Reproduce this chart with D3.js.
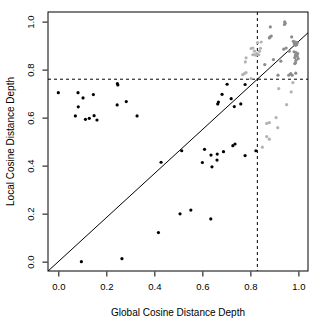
<!DOCTYPE html>
<html>
<head>
<meta charset="utf-8">
<script src="https://cdn.jsdelivr.net/npm/d3@7"></script>
<style>
  body { margin: 0; background: #fff; }
  text { font-family: "Liberation Sans", Arial, sans-serif; }
</style>
</head>
<body>
<div id="chart"></div>
<script>
// black points: below both cut-offs
var blackPts = [
  [0.0,0.704],[0.082,0.704],[0.103,0.682],[0.146,0.696],[0.083,0.645],[0.071,0.607],
  [0.113,0.593],[0.129,0.597],[0.149,0.608],[0.161,0.590],[0.246,0.742],[0.248,0.736],
  [0.245,0.653],[0.283,0.667],[0.328,0.607],[0.096,0.0],[0.265,0.0125],[0.417,0.121],
  [0.428,0.414],[0.600,0.413],[0.640,0.395],[0.661,0.423],[0.507,0.199],[0.552,0.215],
  [0.635,0.178],[0.703,0.739],[0.682,0.697],[0.667,0.665],[0.664,0.657],[0.720,0.679],
  [0.514,0.462],[0.609,0.468],[0.636,0.444],[0.662,0.448],[0.688,0.458],[0.778,0.738],
  [0.733,0.646],[0.760,0.657],[0.727,0.483],[0.736,0.490],[0.778,0.442],[0.823,0.462]
];
// dark grey points: above both cut-offs
var darkPts = [
  [0.883,0.978],[0.943,0.999],[0.945,0.993],[0.942,0.988],[0.882,0.936],[0.887,0.940],
  [0.879,0.932],[0.972,0.936],[0.979,0.918],[0.988,0.915],[0.983,0.908],[0.993,0.904],
  [0.988,0.901],[0.996,0.913],[0.949,0.890],[0.939,0.885],[0.962,0.877],[0.982,0.874],
  [0.990,0.871],[0.997,0.867],[0.988,0.860],[0.995,0.856],[0.985,0.850],[0.999,0.846],
  [0.990,0.839],[0.988,0.829],[0.985,0.825],[0.896,0.842],[0.860,0.821],[0.927,0.835],
  [0.915,0.777],[0.960,0.777],[0.968,0.783],[0.974,0.777],[0.989,0.785]
];
// light grey points: above one cut-off only
var lightPts = [
  [0.803,0.888],[0.810,0.890],[0.817,0.877],[0.827,0.867],[0.810,0.862],[0.817,0.862],
  [0.824,0.860],[0.835,0.862],[0.838,0.877],[0.830,0.912],[0.845,0.915],[0.782,0.849],
  [0.779,0.832],[0.768,0.779],[0.775,0.783],[0.782,0.788],[0.803,0.763],[0.842,0.889],
  [0.977,0.746],[0.918,0.721],[0.970,0.707],[0.951,0.654],[0.907,0.600],[0.868,0.576],
  [0.879,0.579],[0.914,0.558],[0.868,0.521],[0.879,0.510],[0.850,0.477]
];
var tickVals = [0, 0.2, 0.4, 0.6, 0.8, 1.0];
var cutX = 0.829, cutY = 0.76;
var slope = cutY / cutX;

var W = 332, H = 332;
var margin = {top: 12, right: 24, bottom: 61, left: 48};
var width = W - margin.left - margin.right,
    height = H - margin.top - margin.bottom;

var svg = d3.select("#chart").append("svg").attr("width", W).attr("height", H);
var g = svg.append("g").attr("transform", "translate(" + margin.left + "," + margin.top + ")");

var x = d3.scaleLinear().domain([-0.043, 1.04]).range([0, width]);
var y = d3.scaleLinear().domain([-0.039, 1.04]).range([height, 0]);

// clip for the lines inside the box
g.append("clipPath").attr("id", "clip").append("rect")
  .attr("width", width).attr("height", height);

var inner = g.append("g").attr("clip-path", "url(#clip)");

// reference line y = slope * x
inner.append("line")
  .attr("x1", x(-0.1)).attr("y1", y(-0.1 * slope))
  .attr("x2", x(1.1)).attr("y2", y(1.1 * slope))
  .attr("stroke", "#000").attr("stroke-width", 1);

// dashed cut-offs
inner.append("line")
  .attr("x1", 0).attr("x2", width).attr("y1", y(cutY)).attr("y2", y(cutY))
  .attr("stroke", "#000").attr("stroke-dasharray", "3,3");
inner.append("line")
  .attr("x1", x(cutX)).attr("x2", x(cutX)).attr("y1", 0).attr("y2", height)
  .attr("stroke", "#000").attr("stroke-dasharray", "3,3");

function drawPts(data, col) {
  inner.append("g").selectAll("circle")
    .data(data)
    .enter().append("circle")
    .attr("cx", function (d) { return x(d[0]); })
    .attr("cy", function (d) { return y(d[1]); })
    .attr("r", 1.6)
    .attr("fill", col);
}
drawPts(lightPts, "#b3b3b3");
drawPts(darkPts, "#8c8c8c");
drawPts(blackPts, "#000");

// axes
var fmt = d3.format(".1f");
var xAxis = g.append("g")
  .attr("transform", "translate(0," + (height + 0.5) + ")")
  .call(d3.axisBottom(x).tickValues(tickVals).tickFormat(fmt).tickSize(5).tickPadding(7));
var yAxis = g.append("g")
  .attr("transform", "translate(-0.5,0)")
  .call(d3.axisLeft(y).tickValues(tickVals).tickFormat(fmt).tickSize(5).tickPadding(7));

[xAxis, yAxis].forEach(function (a) {
  a.select(".domain").remove();
  a.selectAll(".tick line").attr("stroke", "#000");
  a.selectAll(".tick text").attr("font-size", 9.5).attr("fill", "#000")
    .style("font-family", "'Liberation Sans', Arial, sans-serif");
});
yAxis.selectAll(".tick text")
  .attr("text-anchor", "middle")
  .attr("x", null).attr("dy", null)
  .attr("transform", "translate(-17,0) rotate(-90)")
  .attr("dy", "0.35em");

// box
g.append("rect")
  .attr("x", 0).attr("y", 0).attr("width", width).attr("height", height)
  .attr("fill", "none").attr("stroke", "#000").attr("stroke-width", 1);

// titles
svg.append("text")
  .attr("x", margin.left + width / 2).attr("y", 316)
  .attr("text-anchor", "middle").attr("font-size", 10)
  .text("Global Cosine Distance Depth");
svg.append("text")
  .attr("transform", "translate(14," + (margin.top + height / 2) + ") rotate(-90)")
  .attr("text-anchor", "middle").attr("font-size", 10)
  .text("Local Cosine Distance Depth");
</script>
</body>
</html>
